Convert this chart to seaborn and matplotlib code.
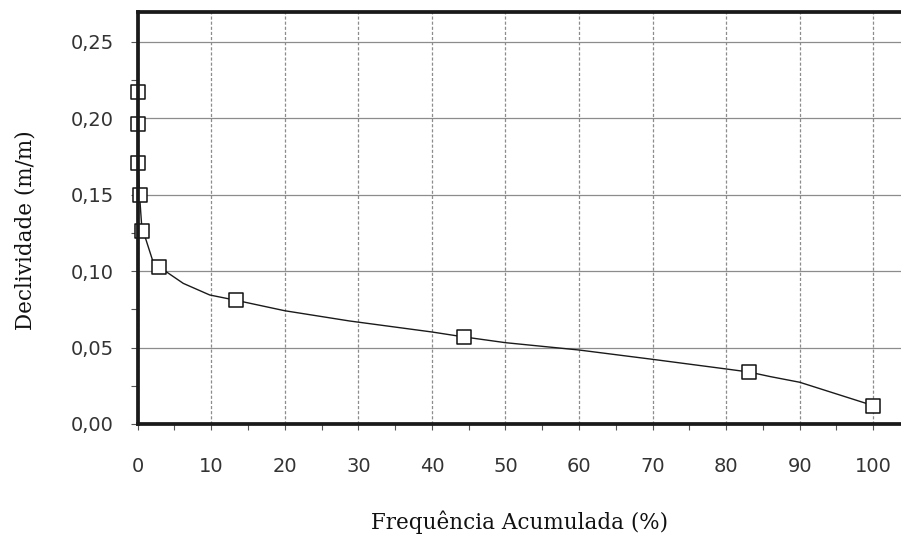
import matplotlib
matplotlib.use("Agg")
import matplotlib.pyplot as plt
import seaborn as sns

# measured points (square markers)
freq_pts = [0.0, 0.0, 0.05, 0.25, 0.6, 2.85, 13.3, 44.3, 83.1, 100.0]
decl_pts = [0.217, 0.196, 0.171, 0.150, 0.126, 0.103, 0.081, 0.057, 0.034, 0.012]

# smooth fitted curve
freq_curve = [0.0, 0.0, 0.05, 0.25, 0.6, 1.0, 1.7, 2.1, 2.85, 6.2, 9.8, 13.3, 20.0, 28.8,
              40.0, 44.3, 50.0, 60.0, 70.0, 80.0, 83.1, 86.0, 90.0, 100.0]
decl_curve = [0.217, 0.196, 0.171, 0.150, 0.126, 0.1225, 0.112, 0.106, 0.103, 0.092, 0.0844,
              0.081, 0.0741, 0.0674, 0.0602, 0.057, 0.0532, 0.0484, 0.0423, 0.036, 0.034,
              0.031, 0.0273, 0.012]

x_ticks = [0, 10, 20, 30, 40, 50, 60, 70, 80, 90, 100]
x_ticklabels = ["0", "10", "20", "30", "40", "50", "60", "70", "80", "90", "100"]
y_ticks = [0.00, 0.05, 0.10, 0.15, 0.20, 0.25]
y_ticklabels = ["0,00", "0,05", "0,10", "0,15", "0,20", "0,25"]

sns.set_style("white")

fig = plt.figure(figsize=(9.01, 5.43), dpi=100)
ax = fig.add_axes([0.1528, 0.2192, 0.8472, 0.7593])

sns.lineplot(x=freq_curve, y=decl_curve, sort=False, estimator=None,
             color="#1a1a1a", linewidth=1.0, ax=ax, zorder=2)
sns.scatterplot(x=freq_pts, y=decl_pts, marker="s", s=95, facecolor="white",
                edgecolor="#111111", linewidth=1.1, ax=ax, zorder=3, clip_on=False)

ax.set_xlim(0, 103.77)
ax.set_ylim(0, 0.2698)

ax.set_xticks(x_ticks)
ax.set_xticklabels(x_ticklabels)
ax.set_yticks(y_ticks)
ax.set_yticklabels(y_ticklabels)
ax.set_xticks([v + 5 for v in x_ticks[:-1]], minor=True)
ax.set_yticks([v + 0.025 for v in y_ticks[:-1]], minor=True)

ax.grid(False)
for v in x_ticks:
    ax.axvline(v, color="#8c8c8c", linewidth=0.9, dashes=(2.5, 1.6), zorder=1)
for v in y_ticks:
    ax.axhline(v, color="#8c8c8c", linewidth=0.9, zorder=1)

for side in ["left", "bottom", "top"]:
    ax.spines[side].set_visible(True)
    ax.spines[side].set_linewidth(2.7)
    ax.spines[side].set_color("#1a1a1a")
    ax.spines[side].set_zorder(4)
ax.spines["right"].set_visible(False)

ax.tick_params(axis="x", which="both", direction="out", length=4, width=0.8,
               color="#555555", pad=20, labelcolor="#333333", bottom=True)
ax.tick_params(axis="y", which="both", direction="out", length=5, width=0.8,
               color="#555555", pad=12, labelcolor="#333333", left=True)
for lab in ax.get_xticklabels() + ax.get_yticklabels():
    lab.set_fontfamily("DejaVu Sans")
    lab.set_fontsize(14)

ax.set_xlabel("Frequência Acumulada (%)", fontfamily="DejaVu Serif", fontsize=15.5, color="#111111")
ax.set_ylabel("Declividade (m/m)", fontfamily="DejaVu Serif", fontsize=15.5, color="#111111")
ax.xaxis.set_label_coords(0.5, -0.211)
ax.yaxis.set_label_coords(-0.1324, 0.471)

fig.savefig("out.png", dpi=100)
plt.close(fig)
